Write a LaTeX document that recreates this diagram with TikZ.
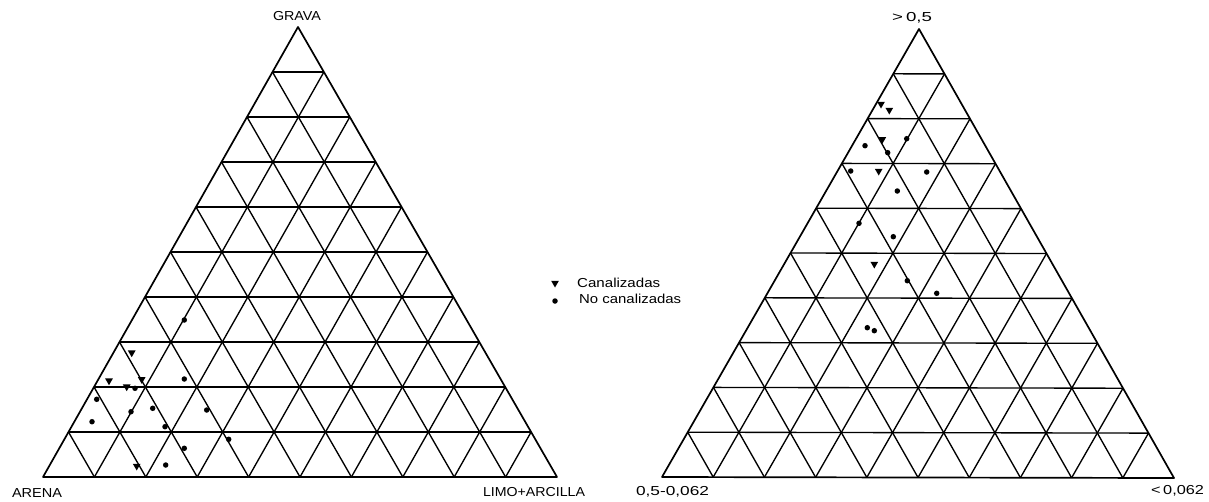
\documentclass[tikz,border=0pt]{standalone}
\usepackage{fontspec}
\usepackage{graphicx}
\setmainfont{Liberation Sans}
\usetikzlibrary{calc,shapes.geometric}
\newcommand\wlab[2]{\resizebox{#1}{\height}{#2}}
\tikzset{
  gridline/.style={line width=1.35pt,black},
  frame/.style={line width=1.7pt,black,line join=round},
  lab/.style={inner sep=0pt,font=\fontsize{13}{15}\selectfont},
  tri/.style={regular polygon,regular polygon sides=3,shape border rotate=180,fill=black,inner sep=0pt,minimum size=9pt},
  dot/.style={circle,fill=black,inner sep=0pt,minimum size=5.5pt}
}
\begin{document}
\begin{tikzpicture}[x=1pt,y=-1pt]
\path[use as bounding box] (0,0) rectangle (1209,501);
% left triangle corners
\coordinate (LA) at (43,477);
\coordinate (LB) at (557,477);
\coordinate (LC) at (298,27);
% right triangle corners
\coordinate (RA) at (662,477);
\coordinate (RB) at (1174,478);
\coordinate (RC) at (919,29);
\foreach \P/\Q/\S in {LA/LB/LC,RA/RB/RC}{
  \foreach \i in {1,...,9}{
    \pgfmathsetmacro\t{\i/10}
    \draw[gridline] ($(\P)!\t!(\S)$) -- ($(\Q)!\t!(\S)$);
    \draw[gridline] ($(\P)!\t!(\Q)$) -- ($(\S)!\t!(\Q)$);
    \draw[gridline] ($(\Q)!\t!(\P)$) -- ($(\S)!\t!(\P)$);
  }
  \draw[frame] (\P) -- (\Q) -- (\S) -- cycle;
}
% labels
\node[lab] (grava) at (297,16.5) {\wlab{48pt}{GRAVA}};
\node[lab] (arena) at (37,493) {\wlab{50pt}{ARENA}};
\node[lab] (limo) at (534,492) {\wlab{102pt}{LIMO+ARCILLA}};
\node[lab] (gt) at (912,17.5) {\wlab{40pt}{>\,0,5}};
\node[lab] (mid) at (672.5,492) {\wlab{73pt}{0,5-0,062}};
\node[lab] (lt) at (1177.5,491) {\wlab{53pt}{<\,0,062}};
% legend
\node[tri] (legtri) at (555,283) {};
\node[lab,anchor=west] (legcan) at (577,283) {\wlab{83pt}{Canalizadas}};
\node[dot] (legdot) at (555,301) {};
\node[lab,anchor=west] (legno) at (579,298.5) {\wlab{102pt}{No canalizadas}};
% left data
\foreach \x/\y [count=\n] in {131.7/352.7,109/380.7,126.7/386.7,141.7/379.3,136.7/466}
  \node[tri] (lt\n) at (\x,\y) {};
\foreach \x/\y [count=\n] in {184.3/320,135/388.3,184.3/379,96.7/399.3,92/421.7,131/411.7,152.7/408.3,165/426.7,206.7/410,184.3/448.3,228.7/439.3,165.7/465}
  \node[dot] (ld\n) at (\x,\y) {};
% right data
\foreach \x/\y [count=\n] in {881/104,889.3/110,882.3/139.3,878.7/171,874.3/264}
  \node[tri] (rt\n) at (\x,\y) {};
\foreach \x/\y [count=\n] in {865/145.7,906.7/138.7,850.7/171,926.7/172,897.3/191,859/223.3,893.3/236.7,907.3/280.7,936.7/293.3,867.3/327.7,874.3/330.7,887.7/152.7}
  \node[dot] (rd\n) at (\x,\y) {};
\end{tikzpicture}
\end{document}
